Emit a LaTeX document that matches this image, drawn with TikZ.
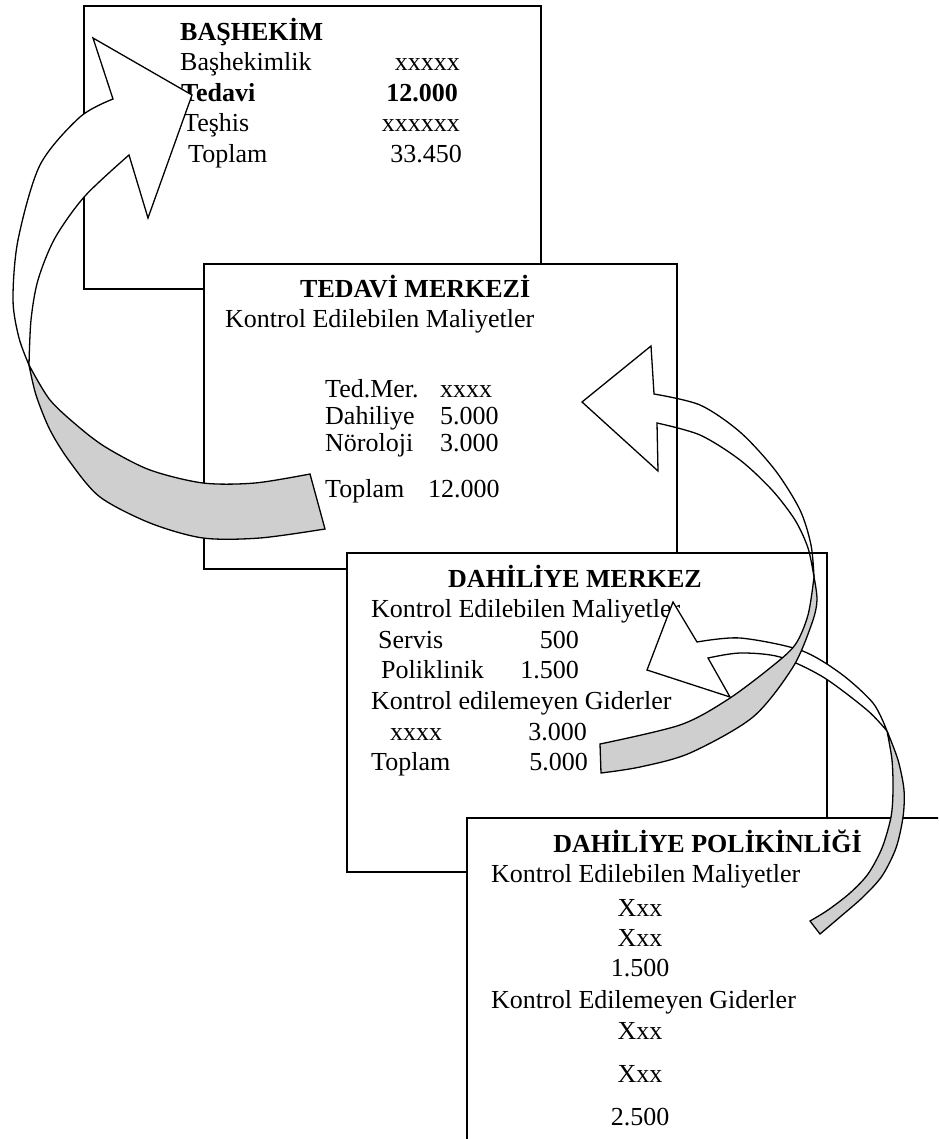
\documentclass[tikz,border=0pt]{standalone}
\usepackage{fontspec}
\setmainfont{Liberation Serif}
\begin{document}
\begin{tikzpicture}[x=1pt,y=-1pt,
  box/.style={draw=black, fill=white, line width=1.6pt, minimum width=#1, anchor=north west, inner sep=0pt},
  tl/.style={inner sep=0pt, anchor=base west, font=\fontsize{26}{30}\selectfont},
  tr/.style={inner sep=0pt, anchor=base east, font=\fontsize{26}{30}\selectfont},
  tc/.style={inner sep=0pt, anchor=base, font=\fontsize{26}{30}\selectfont},
  bl/.style={tl, font=\fontsize{26}{30}\selectfont\bfseries},
  br/.style={tr, font=\fontsize{26}{30}\selectfont\bfseries},
  front/.style={draw=black, fill=white, line width=1.3pt, line join=miter},
  frontline/.style={draw=black, line width=1.3pt, line join=miter},
  back/.style={draw=black, fill=black!19, line width=1.3pt, line join=miter}]
\useasboundingbox (0,0) rectangle (938,1139);
\clip (0,0) rectangle (938,1139);
\fill[white] (0,0) rectangle (938,1139);

% ---------- boxes ----------
\node[box=457, minimum height=283] (bash) at (83,5) {};
\node[box=473, minimum height=305] (tedm) at (203,263) {};
\node[box=480, minimum height=319] (dahm) at (346,552) {};
\node[box=600, minimum height=400] (dahp) at (466,817) {};

% ---------- BAŞHEKİM ----------
\node[bl] (b0) at (180,40.5) {BAŞHEKİM};
\node[tl] (b1) at (180,70.5) {Başhekimlik};
\node[tr] (b1v) at (460,70.5) {xxxxx};
\node[bl] (b2) at (181,101.5) {Tedavi};
\node[br] (b2v) at (458,101.5) {12.000};
\node[tl] (b3) at (183,131.5) {Teşhis};
\node[tr] (b3v) at (460,131.5) {xxxxxx};
\node[tl] (b4) at (188,162.5) {Toplam};
\node[tr] (b4v) at (462,162.5) {33.450};

% ---------- TEDAVİ MERKEZİ ----------
\node[bl] (t0) at (300,298) {TEDAVİ MERKEZİ};
\node[tl] (t1) at (225,327) {Kontrol Edilebilen Maliyetler};
\node[tl] (t2) at (325,397) {Ted.Mer.};
\node[tl] (t2v) at (440,397) {xxxx};
\node[tl] (t3) at (325,424) {Dahiliye};
\node[tl] (t3v) at (440,424) {5.000};
\node[tl] (t4) at (325,451) {Nöroloji};
\node[tl] (t4v) at (440,451) {3.000};
\node[tl] (t5) at (325,497) {Toplam};
\node[tl] (t5v) at (428,497) {12.000};

% ---------- DAHİLİYE MERKEZ ----------
\node[bl] (d0) at (448,587) {DAHİLİYE MERKEZ};
\node[tl] (d1) at (371,617) {Kontrol Edilebilen Maliyetler};
\node[tl] (d2) at (378,648) {Servis};
\node[tr] (d2v) at (579,648) {500};
\node[tl] (d3) at (381,678) {Poliklinik};
\node[tr] (d3v) at (579,678) {1.500};
\node[tl] (d4) at (371,709) {Kontrol edilemeyen Giderler};
\node[tl] (d5) at (390,740) {xxxx};
\node[tr] (d5v) at (587,740) {3.000};
\node[tl] (d6) at (371,770) {Toplam};
\node[tr] (d6v) at (588,770) {5.000};

% ---------- DAHİLİYE POLİKİNLİĞİ ----------
\node[br] (p0) at (862,852) {DAHİLİYE POLİKİNLİĞİ};
\node[tl] (p1) at (491,882) {Kontrol Edilebilen Maliyetler};
\node[tc] (p2) at (640,916) {Xxx};
\node[tc] (p3) at (640,946) {Xxx};
\node[tc] (p4) at (640,976) {1.500};
\node[tl] (p5) at (491,1008) {Kontrol Edilemeyen Giderler};
\node[tc] (p6) at (640,1039) {Xxx};
\node[tc] (p7) at (640,1082) {Xxx};
\node[tc] (p8) at (640,1125) {2.500};

% ---------- curved arrow: polyclinic -> internal medicine centre ----------
\draw[front] (697,642) -- (673,602) -- (647,670) -- (730,697) -- (708,658)
  -- plot[smooth] coordinates {(708,658) (740,653) (780,657) (823,677) (867,710) (887,731)}
  -- plot[smooth] coordinates {(887,731) (873,703) (840,673) (800,650) (740,638) (697,642)}
  -- cycle;
\draw[back] plot[smooth] coordinates {(887,731) (892,760) (893,790) (891,817) (882,848) (868,874) (850,893) (828,910) (810,921)}
  -- (820,934)
  -- plot[smooth] coordinates {(820,934) (840,917) (863,897) (882,876) (896,848) (903,817) (904,790) (898,760) (887,731)}
  -- cycle;

% ---------- curved arrow: internal medicine centre -> treatment centre ----------
\draw[frontline] (654,394) -- (651,346) -- (582,402) -- (658,471) -- (657,423)
  -- plot[smooth] coordinates {(657,423) (700,435) (740,460) (772,490) (795,520) (808,548) (814,577)}
  -- plot[smooth] coordinates {(814,577) (811,545) (800,510) (775,470) (740,432) (700,405) (654,394)}
  -- cycle;
\draw[back] plot[smooth] coordinates {(814,577) (808,615) (795,645) (770,668) (727,700) (680,725) (600,744)}
  -- (601,773)
  -- plot[smooth] coordinates {(601,773) (640,767) (690,753) (753,717) (793,667) (812,623) (817,600) (814,577)}
  -- cycle;

% ---------- curved arrow: treatment centre -> chief physician ----------
\draw[front] (113,99) -- (93,38) -- (192,95) -- (148,218) -- (129,155)
  -- plot[smooth] coordinates {(129,155) (85,196) (55,238) (38,280) (31,320) (29,365)}
  -- plot[smooth] coordinates {(29,365) (19,338) (13,300) (18,240) (40,165) (80,117) (113,99)}
  -- cycle;
\draw[back] plot[smooth] coordinates {(29,365) (50,400) (80,428) (107,448) (150,470) (203,483) (255,483) (310,474)}
  -- (325,529)
  -- plot[smooth] coordinates {(325,529) (260,538) (203,538) (150,523) (100,497) (70,462) (50,430) (36,395) (29,365)}
  -- cycle;
\end{tikzpicture}
\end{document}
